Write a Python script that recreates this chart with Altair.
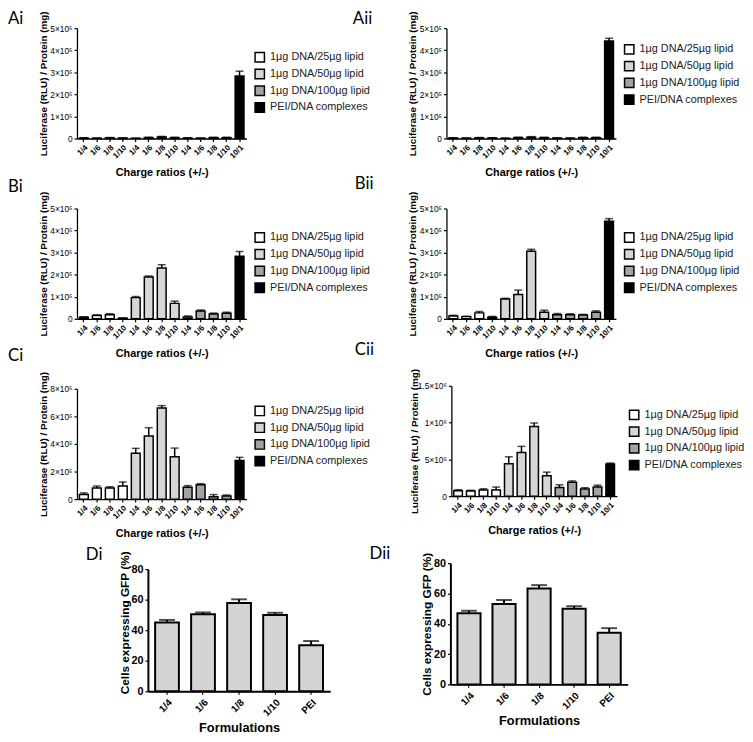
import json
import altair as alt
import pandas as pd

FONT = "Liberation Sans"

# ---------------- data ----------------
luc_x_labels = ["1/4", "1/6", "1/8", "1/10", "1/4", "1/6", "1/8", "1/10",
                "1/4", "1/6", "1/8", "1/10", "10/1"]
groups = ["1µg DNA/25µg lipid", "1µg DNA/50µg lipid", "1µg DNA/100µg lipid", "PEI/DNA complexes"]
bar_groups = [groups[0]] * 4 + [groups[1]] * 4 + [groups[2]] * 4 + [groups[3]]
group_colors = ["#ffffff", "#d6d6d6", "#a3a3a3", "#000000"]

ai_vals = [2500, 1500, 3000, 2000, 1000, 4000, 7000, 4000, 2000, 1500, 4000, 4000, 283000]
ai_errs = [1000, 800, 1500, 1000, 600, 2000, 2500, 1500, 1000, 800, 1500, 1500, 22000]
aii_vals = [2000, 1500, 3000, 2500, 1000, 4000, 6000, 4000, 2000, 1500, 4000, 4000, 442000]
aii_errs = [1000, 800, 1500, 1000, 600, 2000, 2500, 1500, 1000, 800, 1500, 1500, 12000]
bi_vals = [7000, 15000, 18000, 3000, 96000, 190000, 230000, 70000, 8000, 35000, 22000, 25000, 283000]
bi_errs = [2000, 3000, 5000, 1000, 5000, 4000, 15000, 10000, 5000, 5000, 4000, 5000, 22000]
bii_vals = [13000, 10000, 27000, 7000, 90000, 110000, 306000, 30000, 18000, 18000, 17000, 30000, 442000]
bii_errs = [3000, 2000, 6000, 4000, 3000, 20000, 9000, 9000, 6000, 5000, 3000, 6000, 12000]
ci_vals = [33000, 81000, 81000, 95000, 332000, 458000, 660000, 308000, 86000, 105000, 17000, 22000, 280000]
ci_errs = [12000, 14000, 9000, 29000, 36000, 60000, 18000, 62000, 12000, 7000, 16000, 8000, 23000]
cii_vals = [75000, 70000, 84000, 84000, 442000, 593000, 947000, 279000, 119000, 190000, 97000, 124000, 438000]
cii_errs = [13000, 10000, 16000, 40000, 93000, 84000, 48000, 48000, 36000, 18000, 18000, 26000, 12000]

ticks_5e5 = [0, 100000, 200000, 300000, 400000, 500000]
labels_5e5 = ["0", "1×10⁵", "2×10⁵", "3×10⁵", "4×10⁵", "5×10⁵"]
ticks_8e5 = [0, 200000, 400000, 600000, 800000]
labels_8e5 = ["0", "2×10⁵", "4×10⁵", "6×10⁵", "8×10⁵"]
ticks_15e5 = [0, 500000, 1000000, 1500000]
labels_15e5 = ["0", "5×10⁵", "1×10⁶", "1.5×10⁶"]

d_cats = ["1/4", "1/6", "1/8", "1/10", "PEI"]
di_vals = [45.0, 50.5, 57.8, 49.9, 30.1]
di_errs = [1.7, 1.1, 2.4, 1.5, 2.8]
dii_vals = [46.9, 53.1, 63.3, 49.9, 34.1]
dii_errs = [1.7, 2.6, 2.2, 1.7, 3.0]
d_ticks = [0, 20, 40, 60, 80]

LUC_TITLE = "Luciferase (RLU) / Protein (mg)"
X_TITLE = "Charge ratios (+/-)"
D_TITLE = "Cells expressing GFP (%)"


def tick_expr(ticks, labels):
    return f"{json.dumps(labels, ensure_ascii=False)}[indexof({json.dumps(ticks)}, datum.value)]"


def panel_label(name, dx, dy):
    return alt.Chart(pd.DataFrame({"t": [name]})).mark_text(
        x=dx, y=dy, align="left", baseline="middle", font="Lato", fontSize=17, color="black"
    ).encode(text="t:N")


def lum_panel(name, vals, errs, ticks, tlabels, lab_dx, lab_dy, leg_y,
              width=172, height=112, x0=0, up=0, title_x=-34):
    df = pd.DataFrame({
        "pos": list(range(len(vals))),
        "val": vals,
        "top": [v + e for v, e in zip(vals, errs)],
        "grp": bar_groups,
    })
    xaxis = alt.Axis(labelExpr=f"{json.dumps(luc_x_labels)}[datum.value]", labelAngle=-45,
                     labelFontSize=8, labelFontWeight="bold", labelPadding=2, tickSize=3,
                     titleFontSize=11, titleFontWeight="bold", titleY=35, titleBaseline="middle",
                     offset=-up)
    xscale = alt.Scale(paddingInner=0.32, paddingOuter=0.19, range=[x0, x0 + width])
    yaxis = alt.Axis(values=ticks, labelExpr=tick_expr(ticks, tlabels), labelFontSize=8.5,
                     tickSize=3, titleFontSize=10, titleFontWeight="bold", titleX=title_x,
                     titleBaseline="middle", offset=-x0)
    yscale = alt.Scale(domain=[0, ticks[-1]], nice=False, range=[height - up, -up])
    xenc = alt.X("pos:O", title=X_TITLE, scale=xscale, axis=xaxis)
    base = alt.Chart(df)
    bars = base.mark_bar(stroke="black", strokeWidth=1.5).encode(
        x=xenc,
        y=alt.Y("val:Q", title=LUC_TITLE, scale=yscale, axis=yaxis),
        fill=alt.Fill("grp:N", scale=alt.Scale(domain=groups, range=group_colors),
                      legend=alt.Legend(title=None, orient="none", legendX=180 + x0,
                                        legendY=leg_y - up,
                                        direction="vertical", symbolType="square", symbolSize=90,
                                        symbolStrokeColor="black", symbolStrokeWidth=1.5,
                                        labelFont=FONT, labelFontSize=11, labelColor="#222222",
                                        rowPadding=0, labelOffset=5, padding=0)),
    )
    rule = base.mark_rule(color="black", strokeWidth=1.5).encode(
        x=xenc,
        y=alt.Y("val:Q", title=LUC_TITLE, scale=yscale, axis=yaxis),
        y2="top:Q",
    )
    cap = base.mark_tick(color="black", thickness=1.5, size=8).encode(
        x=xenc,
        y=alt.Y("top:Q", title=LUC_TITLE, scale=yscale, axis=yaxis),
    )
    return alt.layer(bars, rule, cap, panel_label(name, lab_dx, lab_dy - up)).properties(
        width=172, height=height)


def d_panel(name, vals, errs, lab_dx, lab_dy, width, x0, up=0, height=124, ytitle_y=None):
    df = pd.DataFrame({
        "cat": d_cats,
        "val": vals,
        "top": [v + e for v, e in zip(vals, errs)],
    })
    xaxis = alt.Axis(labelAngle=-45, labelFontSize=10, labelFontWeight="bold", labelPadding=3,
                     tickSize=3, titleFontSize=13, titleFontWeight="bold", titleY=37,
                     titleBaseline="middle", domainWidth=2, offset=-up)
    xscale = alt.Scale(paddingInner=0.34, paddingOuter=0.2, range=[x0, x0 + width])
    yaxis_kw = dict(values=d_ticks, labelFontSize=11, labelFontWeight="bold", tickSize=3,
                    titleFontSize=12, titleFontWeight="bold", titleX=-24,
                    titleBaseline="middle", domainWidth=2, offset=-x0)
    if ytitle_y is not None:
        yaxis_kw["titleY"] = ytitle_y
    yaxis = alt.Axis(**yaxis_kw)
    yscale = alt.Scale(domain=[0, 80], nice=False, range=[height - up, -up])
    base = alt.Chart(df)
    xenc = alt.X("cat:N", sort=d_cats, title="Formulations", scale=xscale, axis=xaxis)
    bars = base.mark_bar(fill="#d4d4d4", stroke="black", strokeWidth=2).encode(
        x=xenc, y=alt.Y("val:Q", title=D_TITLE, scale=yscale, axis=yaxis))
    rule = base.mark_rule(color="black", strokeWidth=2).encode(
        x=xenc, y=alt.Y("val:Q", title=D_TITLE, scale=yscale, axis=yaxis), y2="top:Q")
    cap = base.mark_tick(color="black", thickness=2, size=16).encode(
        x=xenc, y=alt.Y("top:Q", title=D_TITLE, scale=yscale, axis=yaxis))
    return alt.layer(bars, rule, cap, panel_label(name, lab_dx, lab_dy - up)).properties(
        width=172, height=height)


ai = lum_panel("Ai", ai_vals, ai_errs, ticks_5e5, labels_5e5, -70, -9, 24)
aii = lum_panel("Aii", aii_vals, aii_errs, ticks_5e5, labels_5e5, -95, -9, 16)
bi = lum_panel("Bi", bi_vals, bi_errs, ticks_5e5, labels_5e5, -70, -22, 24)
bii = lum_panel("Bii", bii_vals, bii_errs, ticks_5e5, labels_5e5, -93, -25, 24)
ci = lum_panel("Ci", ci_vals, ci_errs, ticks_8e5, labels_8e5, -70, -33, 17)
cii = lum_panel("Cii", cii_vals, cii_errs, ticks_15e5, labels_15e5, -93, -36, 24,
                width=168, height=112, x0=5, up=3, title_x=-37)
di = d_panel("Di", di_vals, di_errs, 9, -14, 185, 72, ytitle_y=54)
dii = d_panel("Dii", dii_vals, dii_errs, -78, -9, 180, 4, up=6, height=123)

chart = alt.concat(
    ai, aii, bi, bii, ci, cii, di, dii,
    columns=2, spacing={"row": 71, "column": 203}, align="none", bounds="flush",
).resolve_scale(fill="independent").resolve_legend(fill="independent").properties(
    padding={"top": -3, "left": 0, "right": 0, "bottom": 0}, background="white"
).configure_view(stroke=None).configure_axis(
    domainColor="black", tickColor="black", labelColor="black", titleColor="black",
    domainWidth=1.3, tickWidth=1.2, labelFont=FONT, titleFont=FONT, grid=False,
)

chart.save("out.html", embed_options={"renderer": "svg", "actions": False})
